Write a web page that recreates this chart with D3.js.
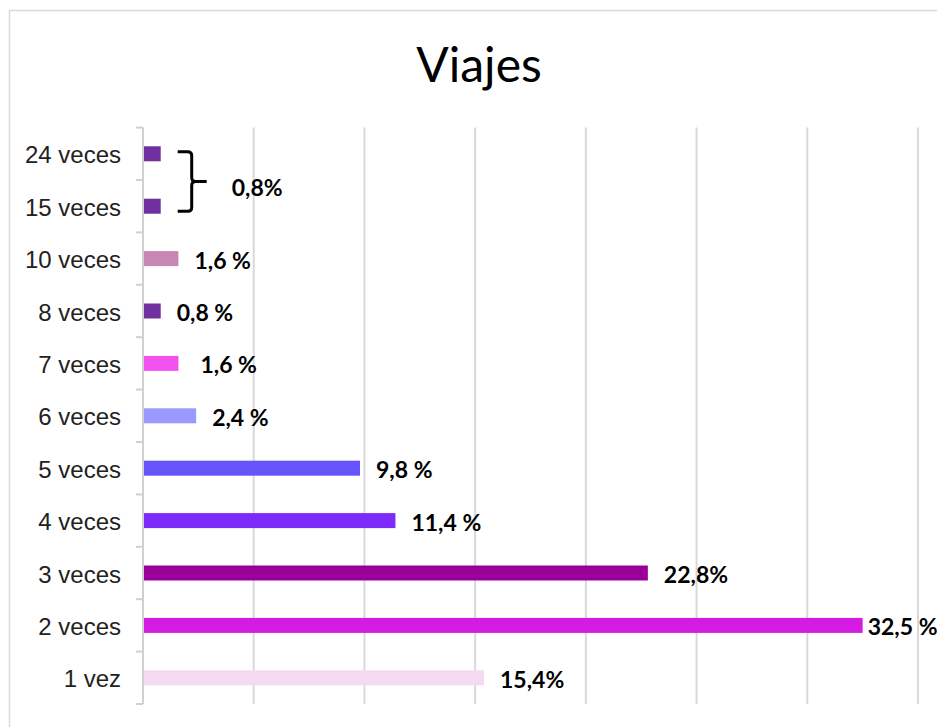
<!DOCTYPE html>
<html lang="es">
<head>
<meta charset="UTF-8" />
<title>Viajes</title>
<script src="https://d3js.org/d3.v7.min.js"></script>
<style>
  body { margin: 0; background: #fff; }
  svg { display: block; }
  .cat text { font-family: "Liberation Sans", Arial, sans-serif; font-size: 24px; fill: #222; }
  .lbl { font-family: Lato, "Open Sans", sans-serif; font-weight: 700; font-size: 23px; fill: #000; }
</style>
</head>
<body>
<div id="chart"></div>
<script>
// data, top row first
var categories = ["24 veces", "15 veces", "10 veces", "8 veces", "7 veces", "6 veces",
                  "5 veces", "4 veces", "3 veces", "2 veces", "1 vez"];
var values = [0.8, 0.8, 1.6, 0.8, 1.6, 2.4, 9.8, 11.4, 22.8, 32.5, 15.4];
var labels = ["", "", "1,6 %", "0,8 %", "1,6 %", "2,4 %", "9,8 %", "11,4 %", "22,8%", "32,5 %", "15,4%"];
var colors = ["#7030a0", "#7030a0", "#c886b4", "#7030a0", "#f352ee", "#9999ff",
              "#6553fb", "#7c2bfb", "#990099", "#d31be1", "#f3daf0"];
var groupLabel = "0,8%";   // shared label for 24 and 15 veces
var xTicks = [0, 5, 10, 15, 20, 25, 30, 35];

var W = 937, H = 727;
var svg = d3.select("#chart").append("svg").attr("width", W).attr("height", H);

// outer frame
svg.append("rect")
  .attr("x", 9.5).attr("y", 10.5).attr("width", 1000).attr("height", 1000)
  .attr("fill", "none").attr("stroke", "#d9d9d9").attr("stroke-width", 1.5);

// title
svg.append("text")
  .attr("x", 479).attr("y", 82)
  .attr("text-anchor", "middle")
  .style("font-family", "Lato, 'Open Sans', sans-serif")
  .style("font-size", "48px")
  .text("Viajes");

var x = d3.scaleLinear().domain([0, 35]).range([143, 918]);
var y = d3.scaleBand().domain(categories).range([127.6, 704]);
var barH = 15;

// vertical gridlines
svg.append("g").selectAll("line")
  .data(xTicks.slice(1))
  .enter().append("line")
    .attr("x1", function(d) { return x(d); })
    .attr("x2", function(d) { return x(d); })
    .attr("y1", y.range()[0]).attr("y2", y.range()[1])
    .attr("stroke", "#d9d9d9").attr("stroke-width", 2);

// category axis
var yAxis = svg.append("g")
  .attr("class", "cat")
  .attr("transform", "translate(" + x(0) + ",0)")
  .call(d3.axisLeft(y).tickSize(0).tickPadding(22));
yAxis.select(".domain").remove();
yAxis.selectAll("text").attr("dy", "0.4em");

// axis line and ticks between bands
var bounds = categories.map(function(c) { return y(c); }).concat([y.range()[1]]);
svg.append("line")
  .attr("x1", x(0)).attr("x2", x(0))
  .attr("y1", y.range()[0]).attr("y2", y.range()[1])
  .attr("stroke", "#d0d0d0").attr("stroke-width", 2);
svg.append("g").selectAll("line")
  .data(bounds)
  .enter().append("line")
    .attr("x1", x(0) - 7).attr("x2", x(0))
    .attr("y1", function(d) { return d; }).attr("y2", function(d) { return d; })
    .attr("stroke", "#d0d0d0").attr("stroke-width", 2);

// bars
var rows = categories.map(function(c, i) {
  return { cat: c, value: values[i], label: labels[i], color: colors[i] };
});

svg.append("g").selectAll("rect")
  .data(rows)
  .enter().append("rect")
    .attr("x", x(0) + 1)
    .attr("y", function(d) { return y(d.cat) + y.bandwidth() / 2 - barH / 2; })
    .attr("width", function(d) { return x(d.value) - x(0) - 1; })
    .attr("height", barH)
    .attr("fill", function(d) { return d.color; });

// value labels (a few sit at different gaps in the original)
var gap = { "7 veces": 22, "2 veces": 5 };
svg.append("g").selectAll("text")
  .data(rows.filter(function(d) { return d.label; }))
  .enter().append("text")
    .attr("class", "lbl")
    .attr("x", function(d) { return x(d.value) + (gap[d.cat] || 16); })
    .attr("y", function(d) { return y(d.cat) + y.bandwidth() / 2 + 1; })
    .attr("dominant-baseline", "central")
    .text(function(d) { return d.label; });

// curly bracket grouping 24 and 15 veces
var yTop = y(categories[0]) + y.bandwidth() / 2 - 2,
    yBot = y(categories[1]) + y.bandwidth() / 2 + 5,
    yMid = (yTop + yBot) / 2,
    x0 = x(0.8) + 17,
    xc = x0 + 14,
    tip = xc + 15;
var p = d3.path();
p.moveTo(x0, yTop);
p.lineTo(xc - 4, yTop);
p.quadraticCurveTo(xc, yTop, xc, yTop + 4);
p.lineTo(xc, yMid - 4);
p.quadraticCurveTo(xc, yMid, xc + 4, yMid);
p.lineTo(tip, yMid);
p.moveTo(xc + 4, yMid);
p.quadraticCurveTo(xc, yMid, xc, yMid + 4);
p.lineTo(xc, yBot - 4);
p.quadraticCurveTo(xc, yBot, xc - 4, yBot);
p.lineTo(x0, yBot);
svg.append("path")
  .attr("d", p.toString())
  .attr("fill", "none").attr("stroke", "#000").attr("stroke-width", 3);

svg.append("text")
  .attr("class", "lbl")
  .attr("x", tip + 25)
  .attr("y", yMid + 5)
  .attr("dominant-baseline", "central")
  .text(groupLabel);
</script>
</body>
</html>
